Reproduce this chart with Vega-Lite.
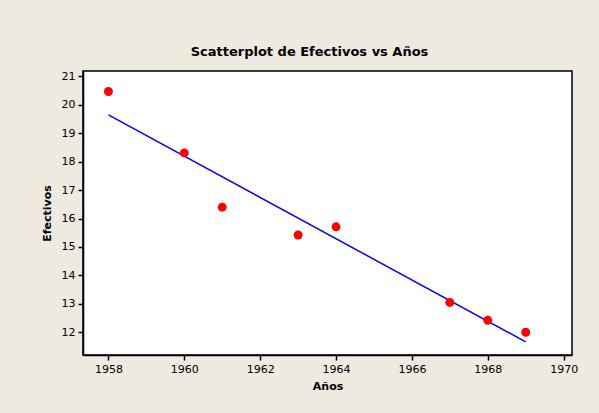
{
  "$schema": "https://vega.github.io/schema/vega-lite/v6.json",
  "autosize": "none",
  "width": 489,
  "height": 284,
  "padding": {"left": 83, "top": 71, "right": 27, "bottom": 58},
  "background": "#EEEAE0",
  "title": {
    "text": "Scatterplot de Efectivos vs Años",
    "font": "DejaVu Sans",
    "fontSize": 13,
    "fontWeight": "bold",
    "color": "#000000",
    "anchor": "middle",
    "dx": -18,
    "offset": 11
  },
  "config": {
    "view": {"fill": "#FFFFFF", "stroke": "#000000", "strokeWidth": 1.5},
    "axis": {
      "labelFont": "DejaVu Sans",
      "labelFontSize": 11,
      "labelColor": "#000000",
      "labelOverlap": false,
      "titleFont": "DejaVu Sans",
      "titleFontSize": 11,
      "titleFontWeight": "bold",
      "titleColor": "#000000",
      "domainColor": "#000000",
      "domainWidth": 1.5,
      "tickColor": "#000000",
      "tickWidth": 1.5,
      "tickSize": 5,
      "labelPadding": 3,
      "grid": false
    }
  },
  "data": {
    "values": [
      {"Anos": 1958, "Efectivos": 20.47},
      {"Anos": 1960, "Efectivos": 18.31},
      {"Anos": 1961, "Efectivos": 16.40},
      {"Anos": 1963, "Efectivos": 15.42},
      {"Anos": 1964, "Efectivos": 15.71},
      {"Anos": 1967, "Efectivos": 13.05},
      {"Anos": 1968, "Efectivos": 12.42},
      {"Anos": 1969, "Efectivos": 12.00}
    ]
  },
  "encoding": {
    "x": {
      "field": "Anos",
      "type": "quantitative",
      "title": "Años",
      "scale": {"domain": [1957.33, 1970.22], "nice": false, "zero": false},
      "axis": {"values": [1958, 1960, 1962, 1964, 1966, 1968, 1970], "format": "d", "titlePadding": 6}
    },
    "y": {
      "field": "Efectivos",
      "type": "quantitative",
      "title": "Efectivos",
      "scale": {"domain": [11.2, 21.19], "nice": false, "zero": false},
      "axis": {"values": [12, 13, 14, 15, 16, 17, 18, 19, 20, 21], "format": "d", "labelOverlap": false, "titlePadding": 9}
    }
  },
  "layer": [
    {
      "transform": [{"regression": "Efectivos", "on": "Anos"}],
      "mark": {"type": "line", "color": "#0000FF", "strokeWidth": 1.5}
    },
    {
      "mark": {"type": "circle", "color": "#FF0000", "opacity": 1, "size": 80}
    }
  ]
}
